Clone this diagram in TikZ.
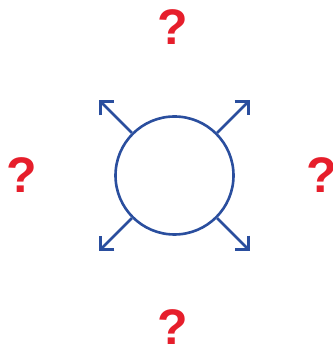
\documentclass[tikz,border=0pt]{standalone}
\usepackage{xcolor}
\usepackage{fontspec}
\usetikzlibrary{arrows.meta}
\newfontfamily\qfont{Liberation Sans}
\definecolor{ringblue}{HTML}{2A4E9E}
\definecolor{qred}{HTML}{E61E2B}

\begin{document}
\begin{tikzpicture}[
	  x=1pt, y=1pt,
	    >={Straight Barb[angle=90:14pt, line join=miter]},
	      ring/.style={circle, draw=ringblue, line width=2.6pt, minimum size=118pt, inner sep=0pt},
	        qmark/.style={text=qred, font=\qfont\bfseries\fontsize{50}{50}\selectfont, inner sep=0pt, anchor=base},
	          spread/.style={->, line width=2.6pt, draw=ringblue}
	          ]
	          \useasboundingbox (0,0) rectangle (332,352);
	          % centre
	          \node[ring] (ring) at (174.5,176.5) {};
	          % free ends
	          \coordinate (ne) at (250,252);
	          \coordinate (nw) at (99,252);
	          \coordinate (sw) at (99,101);
	          \coordinate (se) at (250,101);
	          % question marks
	          \node[qmark] (qtop)    at (173,307) {?};
	          \node[qmark] (qleft)   at (21.5,159) {?};
	          \node[qmark] (qright)  at (322,159) {?};
	          \node[qmark] (qbottom) at (173,7) {?};

	          % arrows
	          \draw[spread] (ring.45)  -- (ne);
	          \draw[spread] (ring.135) -- (nw);
	          \draw[spread] (ring.225) -- (sw);
	          \draw[spread] (ring.315) -- (se);
	          \end{tikzpicture}
\end{document}
